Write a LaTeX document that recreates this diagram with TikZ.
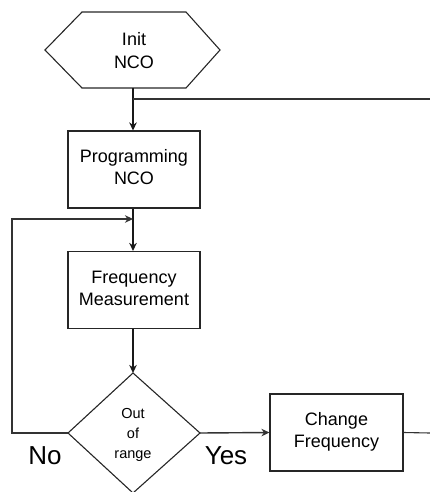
\documentclass[tikz,border=0pt]{standalone}
\usepackage{fontspec}
\setmainfont{Liberation Sans}
\usetikzlibrary{arrows.meta}
\newcommand\mytwolines[2]{\raisebox{-3pt}{\begin{tabular}{@{}c@{}}#1\\#2\end{tabular}}}
\begin{document}
\begin{tikzpicture}[x=1pt,y=-1pt,
  shapeline/.style={line width=1.1pt, draw=black!85},
  box/.style={shapeline, minimum width=132pt, minimum height=77pt, align=center,
    font=\fontsize{18}{22}\selectfont, inner sep=0pt},
  tip/.style={-{Stealth[length=8pt,width=7.5pt,inset=2.5pt]}},
  conn/.style={line width=1.6pt, draw=black!90, tip},
  thinline/.style={line width=1.1pt, draw=black!80},
  lbl/.style={font=\fontsize{26}{30}\selectfont, inner sep=0pt}]
\useasboundingbox (0,0) rectangle (430,492);
% Init hexagon
\draw[shapeline] (82,12) -- (186,12) -- (220,50) -- (186,88) -- (82,88) -- (45,50) -- cycle;
\node[align=center, font=\fontsize{18}{23}\selectfont] (init) at (134,51) {Init\\NCO};
\coordinate (hexb) at (133,88);
% boxes
\node[box] (prog) at (134,169.5) {\mytwolines{Programming}{NCO}};
\node[box] (freq) at (134,290) {\mytwolines{Frequency}{Measurement}};
\node[box, minimum width=133pt] (chg) at (336.5,432.5) {\mytwolines{Change}{Frequency}};
% diamond
\coordinate (dt) at (133,373);
\coordinate (dr) at (200,433);
\coordinate (db) at (133,493);
\coordinate (dl) at (68,433);
\draw[shapeline] (dt) -- (dr) -- (db) -- (dl) -- cycle;
\node[align=center, font=\fontsize{14.5}{20}\selectfont] (dec) at (133,435) {Out\\of\\range};
% connectors
\coordinate (tap) at (133,99);
\coordinate (eastA) at (430,99);
\coordinate (eastB) at (430,433);
\coordinate (loopa) at (12,433);
\coordinate (loopb) at (12,219);
\coordinate (join) at (133,219);
\draw[conn] (hexb) -- (prog.north -| hexb);
\draw[thinline] (tap) -- (eastA);
\draw[conn] (prog.south -| hexb) -- (freq.north -| hexb);
\draw[thinline, tip] (dl) -- (loopa) -- (loopb) -- (join);
\draw[conn] (freq.south -| hexb) -- (dt);
\draw[thinline, line width=1.4pt, tip] (dr) -- (chg.west);
\draw[thinline] (chg.east) -- (eastB);
% labels
\node[lbl] (no) at (45,456) {No};
\node[lbl] (yes) at (226,456) {Yes};
\end{tikzpicture}
\end{document}
